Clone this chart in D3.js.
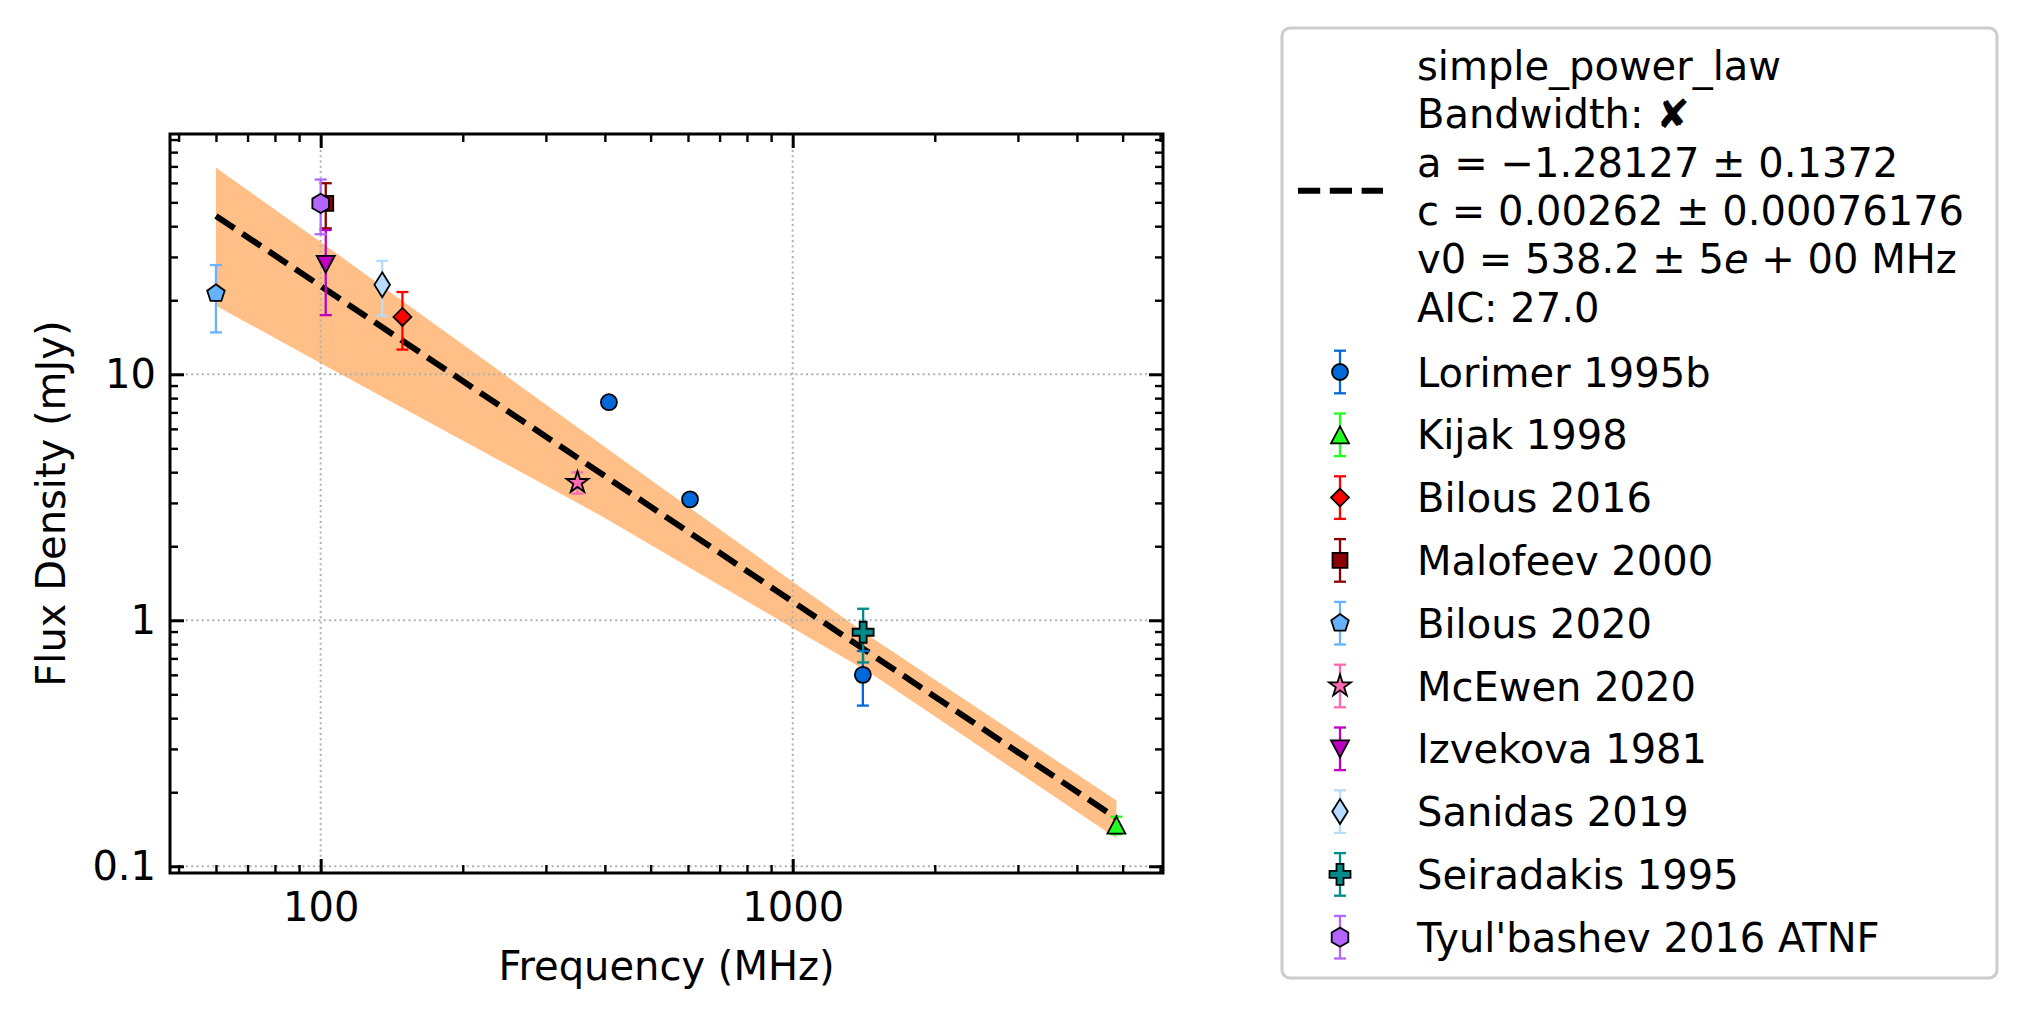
<!DOCTYPE html>
<html>
<head>
<meta charset="UTF-8">
<title>Flux density vs frequency</title>
<script src="https://cdn.jsdelivr.net/npm/d3@7"></script>
<style>
  body { margin: 0; background: #ffffff; }
  text { font-family: "DejaVu Sans", sans-serif; }
</style>
</head>
<body>
<script>
  // ---- values ----
  const seriesNames = ["Lorimer 1995b", "Kijak 1998", "Bilous 2016", "Malofeev 2000", "Bilous 2020",
    "McEwen 2020", "Izvekova 1981", "Sanidas 2019", "Seiradakis 1995", "Tyul'bashev 2016 ATNF"];
  const seriesFreq = [[408, 606, 1408], [4850], [149], [102.5], [60], [350], [102.5], [135], [1410], [100]];
  const seriesFlux = [[7.7, 3.1, 0.6], [0.147], [17.1], [49.5], [21.3], [3.63], [28.0], [23.1], [0.894], [49.5]];
  const seriesErr = [[0.3, 0.12, 0.15], [0.012], [4.5], [10.3], [6.5], [0.36], [10.6], [5.8], [0.22], [12.4]];

  // fitted power law and its uncertainty band
  const fitFreq = [60, 4850];
  const fitFlux = [44.0, 0.157];
  const bandFreq = [60, 100, 390, 1000, 1460, 4850];
  const bandLow = [19.0, 11.1, 2.68, 0.93, 0.61, 0.130];
  const bandHigh = [69.2, 34.5, 5.24, 1.435, 0.858, 0.185];

  // legend text of the fit; "e" in the v0 line is set in italics (mathtext)
  const fitLabel = [["simple_power_law"], ["Bandwidth: \u2718"], ["a = \u22121.28127 \u00b1 0.1372"],
    ["c = 0.00262 \u00b1 0.00076176"], ["v0 = 538.2 \u00b1 5", "e", " + 00 MHz"], ["AIC: 27.0"]];

  const xMajor = [100, 1000];
  const yMajor = [0.1, 1, 10];

  // ---- styles ----
  const colors = ["#0068d9", "#20ff20", "#ff0000", "#8b0000", "#66b2ff",
    "#ff69b4", "#c000c0", "#b8dcff", "#008b8b", "#b266ff"];
  const markers = ["circle", "triangleUp", "diamond", "square", "pentagon",
    "star", "triangleDown", "thinDiamond", "plusFilled", "hexagon"];

  const W = 2019, H = 1018;
  const box = { left: 170, right: 1163, top: 134, bottom: 873 };
  const fontSize = 40;

  const x = d3.scaleLog().domain([47.95, 6088]).range([box.left, box.right]);
  const y = d3.scaleLog().domain([0.0939, 94.8]).range([box.bottom, box.top]);

  function minorTicks(dom) {
    const out = [];
    for (let e = -2; e <= 4; e++) {
      for (let k = 2; k <= 9; k++) {
        const v = k * Math.pow(10, e);
        if (v >= dom[0] && v <= dom[1]) out.push(v);
      }
    }
    return out;
  }

  // matplotlib-like marker outlines
  function markerPath(kind) {
    const poly = pts => "M" + pts.map(p => p[0].toFixed(2) + "," + p[1].toFixed(2)).join("L") + "Z";
    const ngon = (n, r) => d3.range(n).map(i => {
      const a = i * 2 * Math.PI / n;
      return [r * Math.sin(a), -r * Math.cos(a)];
    });
    switch (kind) {
      case "circle": return "M8,0A8,8 0 1,1 -8,0A8,8 0 1,1 8,0Z";
      case "triangleUp": return poly([[0, -8.5], [9, 8.5], [-9, 8.5]]);
      case "triangleDown": return poly([[0, 8.5], [9, -8.5], [-9, -8.5]]);
      case "diamond": return poly([[0, -9], [9, 0], [0, 9], [-9, 0]]);
      case "thinDiamond": return poly([[0, -12.5], [7.8, 0], [0, 12.5], [-7.8, 0]]);
      case "square": return poly([[-7.5, -7.5], [7.5, -7.5], [7.5, 7.5], [-7.5, 7.5]]);
      case "pentagon": return poly(ngon(5, 9.2));
      case "hexagon": return poly(ngon(6, 9.6));
      case "star": {
        const pts = d3.range(10).map(i => {
          const r = i % 2 ? 11.5 * 0.381966 : 11.5;
          const a = i * Math.PI / 5;
          return [r * Math.sin(a), -r * Math.cos(a)];
        });
        return poly(pts);
      }
      case "plusFilled": {
        const u = 3.5;
        return poly([[-1, -3], [-1, -1], [-3, -1], [-3, 1], [-1, 1], [-1, 3], [1, 3], [1, 1], [3, 1], [3, -1], [1, -1], [1, -3]]
          .map(p => [p[0] * u, p[1] * u]));
      }
    }
  }

  function errorbar(g, cx, yTop, yBot, color) {
    g.append("line").attr("x1", cx).attr("x2", cx).attr("y1", yTop).attr("y2", yBot)
      .attr("stroke", color).attr("stroke-width", 2.3);
    [yTop, yBot].forEach(cy => {
      g.append("line").attr("x1", cx - 6).attr("x2", cx + 6).attr("y1", cy).attr("y2", cy)
        .attr("stroke", color).attr("stroke-width", 2.3);
    });
  }

  function marker(g, cx, cy, kind, color) {
    g.append("path").attr("d", markerPath(kind))
      .attr("transform", "translate(" + cx + "," + cy + ")")
      .attr("fill", color).attr("stroke", "#000").attr("stroke-width", 1.8)
      .attr("stroke-linejoin", "miter");
  }

  const svg = d3.select("body").append("svg")
    .attr("width", W).attr("height", H)
    .style("display", "block")
    .style("background", "#fff");

  svg.append("clipPath").attr("id", "plotclip").append("rect")
    .attr("x", box.left).attr("y", box.top)
    .attr("width", box.right - box.left).attr("height", box.bottom - box.top);

  // ---- fit band ----
  const bandData = bandFreq.map((f, i) => ({ f: f, lo: bandLow[i], hi: bandHigh[i] }));
  svg.append("path")
    .datum(bandData)
    .attr("d", d3.area().x(d => x(d.f)).y0(d => y(d.lo)).y1(d => y(d.hi)))
    .attr("fill", "#ff7f0e").attr("fill-opacity", 0.5)
    .attr("clip-path", "url(#plotclip)");

  // ---- grid ----
  const grid = svg.append("g").attr("stroke", "#b0b0b0").attr("stroke-width", 2)
    .attr("stroke-dasharray", "2,3.3");
  xMajor.forEach(v => {
    grid.append("line").attr("x1", x(v)).attr("x2", x(v)).attr("y1", box.top).attr("y2", box.bottom);
  });
  yMajor.forEach(v => {
    grid.append("line").attr("x1", box.left).attr("x2", box.right).attr("y1", y(v)).attr("y2", y(v));
  });

  // ---- fit line ----
  svg.append("path")
    .datum(fitFreq.map((f, i) => [f, fitFlux[i]]))
    .attr("d", d3.line().x(d => x(d[0])).y(d => y(d[1])))
    .attr("fill", "none").attr("stroke", "#000").attr("stroke-width", 6)
    .attr("stroke-dasharray", "22.2,9.6");

  // ---- data points ----
  const pts = svg.append("g").attr("clip-path", "url(#plotclip)");
  seriesNames.forEach((name, s) => {
    const g = pts.append("g").attr("class", "series");
    seriesFreq[s].forEach((f, i) => {
      const v = seriesFlux[s][i], e = seriesErr[s][i];
      errorbar(g, x(f), y(v + e), y(v - e), colors[s]);
    });
    seriesFreq[s].forEach((f, i) => {
      marker(g, x(f), y(seriesFlux[s][i]), markers[s], colors[s]);
    });
  });

  // ---- axes (ticks point inwards, on all four sides) ----
  function drawAxis(gen, scale, values, len, width, transform, labelled, pad) {
    const a = gen(scale).tickValues(values).tickSizeInner(-len).tickSizeOuter(0).tickPadding(pad)
      .tickFormat(labelled ? d3.format("~g") : "");
    const g = svg.append("g").attr("transform", transform).call(a);
    g.select(".domain").remove();
    g.selectAll(".tick line").attr("stroke", "#000").attr("stroke-width", width);
    g.attr("font-size", fontSize).attr("font-family", "DejaVu Sans").attr("fill", "#000");
    g.selectAll("text").attr("fill", "#000");
    return g;
  }
  const xMinor = minorTicks(x.domain());
  const yMinor = minorTicks(y.domain());
  const bottomT = "translate(0," + box.bottom + ")", topT = "translate(0," + box.top + ")";
  const leftT = "translate(" + box.left + ",0)", rightT = "translate(" + box.right + ",0)";

  drawAxis(d3.axisBottom, x, xMinor, 8, 2.4, bottomT, false, 0);
  drawAxis(d3.axisTop, x, xMinor, 8, 2.4, topT, false, 0);
  drawAxis(d3.axisLeft, y, yMinor, 8, 2.4, leftT, false, 0);
  drawAxis(d3.axisRight, y, yMinor, 8, 2.4, rightT, false, 0);
  drawAxis(d3.axisBottom, x, xMajor, 14, 3, bottomT, true, 19.6);
  drawAxis(d3.axisTop, x, xMajor, 14, 3, topT, false, 0);
  drawAxis(d3.axisLeft, y, yMajor, 14, 3, leftT, true, 14);
  drawAxis(d3.axisRight, y, yMajor, 14, 3, rightT, false, 0);

  svg.append("rect")
    .attr("x", box.left).attr("y", box.top)
    .attr("width", box.right - box.left).attr("height", box.bottom - box.top)
    .attr("fill", "none").attr("stroke", "#000").attr("stroke-width", 3);

  // axis titles
  svg.append("text")
    .attr("x", (box.left + box.right) / 2).attr("y", 980)
    .attr("text-anchor", "middle").attr("font-size", fontSize)
    .text("Frequency (MHz)");
  svg.append("text")
    .attr("transform", "translate(65," + (box.top + box.bottom) / 2 + ") rotate(-90)")
    .attr("text-anchor", "middle").attr("font-size", fontSize)
    .text("Flux Density (mJy)");

  // ---- legend ----
  const leg = svg.append("g");
  leg.append("rect")
    .attr("x", 1282).attr("y", 28).attr("width", 715).attr("height", 950)
    .attr("rx", 8).attr("ry", 8)
    .attr("fill", "#fff").attr("stroke", "#cccccc").attr("stroke-width", 3);

  const handleX = 1340, textX = 1417;
  leg.append("line")
    .attr("x1", 1298).attr("x2", 1383).attr("y1", 190.7).attr("y2", 190.7)
    .attr("stroke", "#000").attr("stroke-width", 6).attr("stroke-dasharray", "22.2,9.6");
  fitLabel.forEach((parts, i) => {
    const t = leg.append("text").attr("x", textX).attr("y", 80 + i * 48.3).attr("font-size", fontSize);
    parts.forEach((p, k) => {
      t.append("tspan").attr("font-style", k === 1 ? "italic" : "normal").text(p);
    });
  });

  seriesNames.forEach((name, s) => {
    const cy = 372 + s * 62.8;
    const g = leg.append("g");
    errorbar(g, handleX, cy - 21.3, cy + 21.3, colors[s]);
    marker(g, handleX, cy, markers[s], colors[s]);
    g.append("text").attr("x", textX).attr("y", cy + 14.5)
      .attr("font-size", fontSize).text(name);
  });
</script>
</body>
</html>
